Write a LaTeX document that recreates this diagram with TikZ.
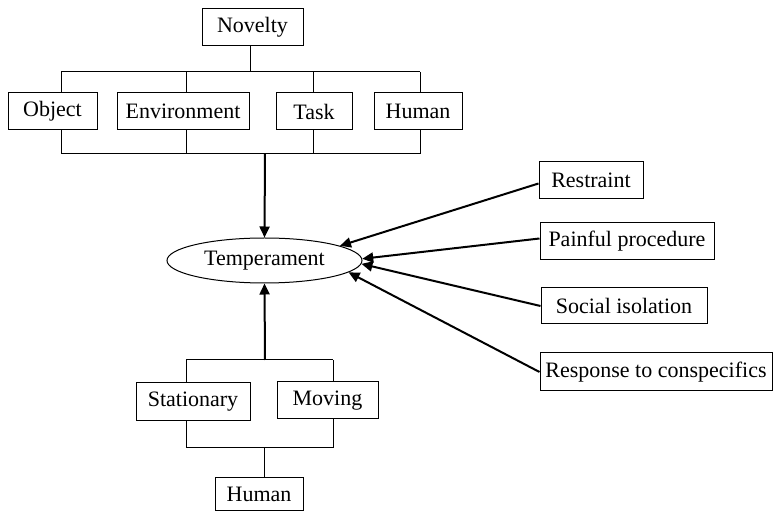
\documentclass[tikz,border=0pt]{standalone}
\usepackage{fontspec}
\setmainfont{Liberation Serif}
\usetikzlibrary{arrows.meta,shapes.geometric}
\begin{document}
\begin{tikzpicture}[x=0.5pt,y=-0.5pt,
  box/.style={draw,line width=0.5pt,inner sep=0pt,minimum height=18.5pt,font=\fontsize{11}{13}\selectfont},
  thin/.style={line width=0.5pt},
  arr/.style={line width=1pt,-{Triangle[length=5.5pt,width=5pt]}}]
\useasboundingbox (0,0) rectangle (773,513);
% top tree
\node[box,minimum width=50.5pt] (nov) at (252.5,27.5) {Novelty};
\node[box,minimum width=44.5pt] (obj) at (52.5,111.5) {Object};
\node[box,minimum width=66pt] (env) at (183,111.5) {Environment};
\node[box,minimum width=38pt] (task) at (314,111.5) {Task};
\node[box,minimum width=44pt] (hum) at (418,111.5) {Human};
\node[draw,ellipse,line width=0.5pt,inner sep=0pt,minimum width=97.5pt,minimum height=22.5pt,font=\fontsize{11}{13}\selectfont] (temp) at (264.5,260.5) {Temperament};
% bottom tree
\node[box,minimum width=57pt,minimum height=19pt] (sta) at (193,402) {Stationary};
\node[box,minimum width=50.5pt] (mov) at (327.5,400.5) {Moving};
\node[box,minimum width=44pt,minimum height=16.5pt] (hum2) at (259,494.5) {Human};
% right boxes
\node[box,minimum width=52pt] (res) at (591,180.5) {Restraint};
\node[box,minimum width=87pt] (pain) at (627,241.5) {Painful procedure};
\node[box,minimum width=83pt,minimum height=18pt] (soc) at (624,306) {Social isolation};
\node[box,minimum width=116pt,minimum height=19pt] (resp) at (656,372) {Response to conspecifics};
% coordinates
\coordinate (n1) at (250,72);
\coordinate (ta) at (61,72);
\coordinate (tb) at (186,72);
\coordinate (tc) at (313,72);
\coordinate (td) at (420,72);
\coordinate (ba) at (61,154);
\coordinate (bb) at (186,154);
\coordinate (bc) at (313,154);
\coordinate (bd) at (420,154);
\coordinate (bm) at (265,154);
\coordinate (ua) at (186,360);
\coordinate (ub) at (333,360);
\coordinate (um) at (265,360);
\coordinate (la) at (186,448);
\coordinate (lb) at (333,448);
\coordinate (lm) at (264,448);
% top connectors
\draw[thin] (nov.south -| n1) -- (n1);
\draw[thin] (ta) -- (td);
\draw[thin] (ta) -- (ta |- obj.north);
\draw[thin] (tb) -- (tb |- env.north);
\draw[thin] (tc) -- (tc |- task.north);
\draw[thin] (td) -- (td |- hum.north);
\draw[thin] (ba) -- (bd);
\draw[thin] (ba |- obj.south) -- (ba);
\draw[thin] (bb |- env.south) -- (bb);
\draw[thin] (bc |- task.south) -- (bc);
\draw[thin] (bd |- hum.south) -- (bd);
\draw[arr] (bm) -- (temp.north);
% bottom connectors
\draw[arr] (um) -- (temp.south);
\draw[thin] (ua) -- (ub);
\draw[thin] (ua) -- (ua |- sta.north);
\draw[thin] (ub) -- (ub |- mov.north);
\draw[thin] (la |- sta.south) -- (la) -- (lb) -- (lb |- mov.south);
\draw[thin] (lm) -- (lm |- hum2.north);
% right arrows
\draw[arr] ([yshift=-1.5pt]res.west) -- (temp.11.6);
\draw[arr] ([yshift=1.5pt]pain.west) -- (temp.1.5);
\draw[arr] (soc.west) -- (temp.-2);
\draw[arr] (resp.west) -- (temp.-8.5);
\end{tikzpicture}
\end{document}
